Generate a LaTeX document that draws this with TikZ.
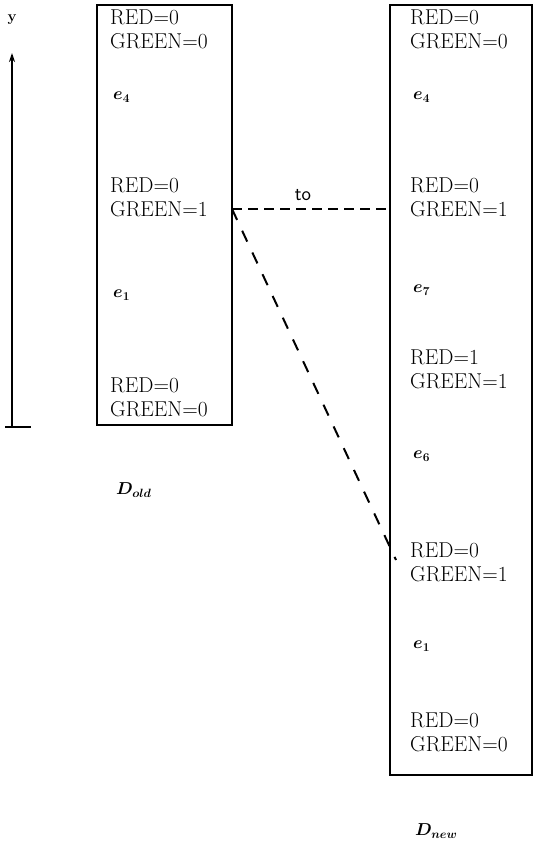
\documentclass[tikz,border=0pt]{standalone}
\usepackage{amsmath}
\usetikzlibrary{arrows.meta}
\begin{document}
\begin{tikzpicture}[x=1pt,y=1pt,
  frame/.style={draw, line width=2pt, inner sep=0pt},
  lbl/.style={anchor=west, inner sep=0pt, font=\fontsize{21.5}{24}\selectfont},
  ev/.style={anchor=west, inner sep=0pt, font=\fontsize{18}{20}\selectfont},
  link/.style={line width=2pt, dash pattern=on 10pt off 6pt},
  slant/.style={line width=2pt, dash pattern=on 12pt off 12pt}]
\useasboundingbox (0,0) rectangle (534,-851);

% the two state lists
\node[frame, minimum width=135pt, minimum height=420pt] (old) at (164.5,-215) {};
\node[frame, minimum width=142pt, minimum height=770pt] (new) at (461,-390) {};

% left list contents
\node[lbl] (o1) at (110,-17) {RED=0};
\node[lbl] (o2) at (110,-41) {GREEN=0};
\node[ev]  (o3) at (113,-97) {$\boldsymbol{e_4}$};
\node[lbl] (o4) at (110,-185) {RED=0};
\node[lbl] (o5) at (110,-209) {GREEN=1};
\node[ev]  (o6) at (113,-295) {$\boldsymbol{e_1}$};
\node[lbl] (o7) at (110,-385) {RED=0};
\node[lbl] (o8) at (110,-409) {GREEN=0};

% right list contents
\node[lbl] (n1) at (410,-17) {RED=0};
\node[lbl] (n2) at (410,-41) {GREEN=0};
\node[ev]  (n3) at (413,-97) {$\boldsymbol{e_4}$};
\node[lbl] (n4) at (410,-185) {RED=0};
\node[lbl] (n5) at (410,-209) {GREEN=1};
\node[ev]  (n6) at (413,-290) {$\boldsymbol{e_7}$};
\node[lbl] (n7) at (410,-357) {RED=1};
\node[lbl] (n8) at (410,-381) {GREEN=1};
\node[ev]  (n9) at (413,-456) {$\boldsymbol{e_6}$};
\node[lbl] (n10) at (410,-550) {RED=0};
\node[lbl] (n11) at (410,-574) {GREEN=1};
\node[ev]  (n12) at (413,-646) {$\boldsymbol{e_1}$};
\node[lbl] (n13) at (410,-720) {RED=0};
\node[lbl] (n14) at (410,-744) {GREEN=0};

% captions
\node[ev] (dold) at (116,-490) {$\boldsymbol{D_{old}}$};
\node[ev] (dnew) at (415,-831) {$\boldsymbol{D_{new}}$};

% correspondence links
\coordinate (src) at (232,-209);
\coordinate (dst1) at (390,-209);
\coordinate (dst2) at (396,-560);
\draw[link] (src) -- (dst1);
\node[font=\sffamily\fontsize{20}{22}\selectfont, inner sep=0pt] (to) at (303,-195) {to};
\draw[slant] (src) -- (dst2);

% time axis
\coordinate (ybot) at (12,-427);
\coordinate (ytop) at (12,-53);
\coordinate (tl) at (5,-427);
\coordinate (tr) at (31,-427);
\draw[line width=1.6pt, -{Stealth[length=9pt,width=6pt]}] (ybot) -- (ytop);
\draw[line width=2pt] (tl) -- (tr);
\node[anchor=center, inner sep=0pt, font=\bfseries\fontsize{15}{18}\selectfont] (ylab) at (12,-20) {y};
\end{tikzpicture}
\end{document}
